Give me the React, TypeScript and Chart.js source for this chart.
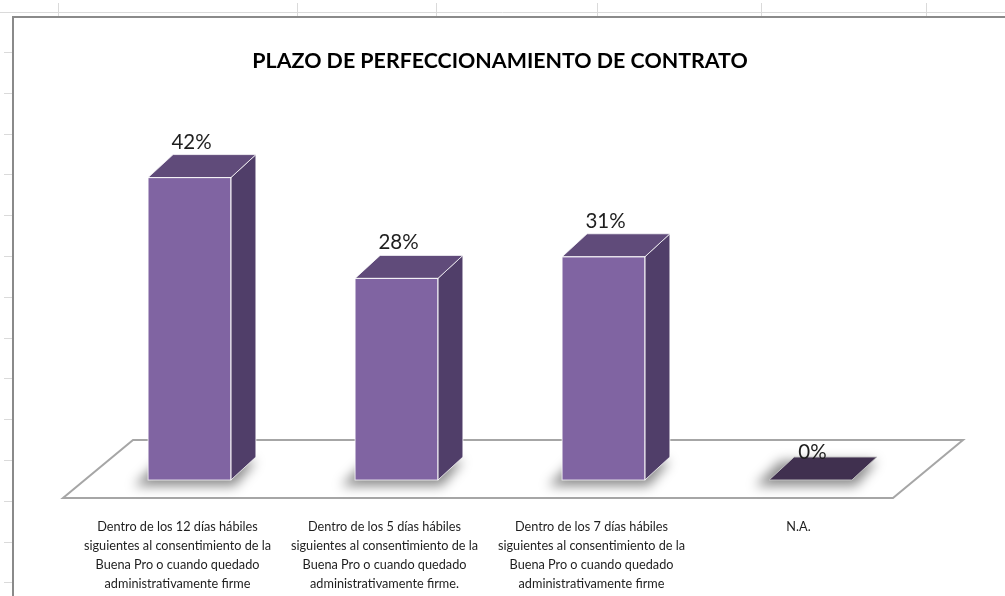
import React, { useEffect, useRef } from "react";
import { Chart, registerables } from "chart.js";

Chart.register(...registerables);

const chartTitle = "PLAZO DE PERFECCIONAMIENTO DE CONTRATO";
const categories: string[][] = [
  ["Dentro de los 12 días hábiles", "siguientes al consentimiento de la", "Buena Pro o cuando quedado", "administrativamente firme"],
  ["Dentro de los 5 días hábiles", "siguientes al consentimiento de la", "Buena Pro o cuando quedado", "administrativamente firme."],
  ["Dentro de los 7 días hábiles", "siguientes al consentimiento de la", "Buena Pro o cuando quedado", "administrativamente firme"],
  ["N.A."],
];
const values: number[] = [42, 28, 31, 0];
const valueLabels: string[] = ["42%", "28%", "31%", "0%"];

const FONT = "Lato, 'Noto Sans', sans-serif";
const COLORS = {
  front: "#8064A2",
  side: "#503E69",
  top: "#604B7A",
  flatTop: "#40304F",
  edge: "rgba(255,255,255,0.75)",
  floor: "#A6A6A6",
  border: "#8A8A8A",
  sheet: "#DADADA",
  text: "#1E1E1E",
};
const DEPTH = { dx: 25, dy: -23 };

const sheetPlugin = {
  id: "sheet",
  beforeDraw(chart: any) {
    const { ctx, width, height } = chart;
    ctx.save();
    ctx.fillStyle = "#ffffff";
    ctx.fillRect(0, 0, width, height);
    ctx.strokeStyle = COLORS.sheet;
    ctx.lineWidth = 1;
    ctx.beginPath();
    ctx.moveTo(0, 12.5);
    ctx.lineTo(width, 12.5);
    [58, 297, 436, 597, 761, 926].forEach((x) => {
      ctx.moveTo(x + 0.5, 3);
      ctx.lineTo(x + 0.5, 16);
    });
    for (let y = 52; y < height; y += 40.8) {
      const yy = Math.round(y) + 0.5;
      ctx.moveTo(4, yy);
      ctx.lineTo(12, yy);
    }
    ctx.stroke();
    ctx.strokeStyle = COLORS.border;
    ctx.lineWidth = 2;
    ctx.strokeRect(13, 17, width + 20, height + 20);
    ctx.restore();
  },
};

const bar3dPlugin = {
  id: "bar3d",
  beforeDatasetsDraw(chart: any) {
    const { ctx, chartArea } = chart;
    const yScale = chart.scales.y;
    const base = yScale.getPixelForValue(0);
    const fy = base + 18;
    const fl = chartArea.left - 23;
    const fr = chartArea.right - 21;
    const bx = 70, by = -58;
    ctx.save();
    ctx.beginPath();
    ctx.moveTo(fl, fy);
    ctx.lineTo(fr, fy);
    ctx.lineTo(fr + bx, fy + by);
    ctx.lineTo(fl + bx, fy + by);
    ctx.closePath();
    ctx.fillStyle = "#ffffff";
    ctx.fill();
    ctx.strokeStyle = COLORS.floor;
    ctx.lineWidth = 2;
    ctx.stroke();
    // shadows
    const meta = chart.getDatasetMeta(0);
    meta.data.forEach((bar: any) => {
      const w = bar.width;
      const x0 = bar.x - w / 2;
      ctx.save();
      ctx.filter = "blur(6px)";
      ctx.fillStyle = "rgba(0,0,0,0.45)";
      ctx.beginPath();
      ctx.moveTo(x0 - 14, base + 6);
      ctx.lineTo(x0 + w + 4, base + 6);
      ctx.lineTo(x0 + w + DEPTH.dx, base + DEPTH.dy + 4);
      ctx.lineTo(x0 + DEPTH.dx - 14, base + DEPTH.dy + 4);
      ctx.closePath();
      ctx.fill();
      ctx.restore();
    });
    ctx.restore();
  },
  afterDatasetsDraw(chart: any) {
    const { ctx } = chart;
    const meta = chart.getDatasetMeta(0);
    const { dx, dy } = DEPTH;
    ctx.save();
    meta.data.forEach((bar: any, i: number) => {
      const w = bar.width;
      const x0 = bar.x - w / 2;
      const x1 = bar.x + w / 2;
      const yt = bar.y;
      const yb = bar.base;
      const flat = Math.abs(yb - yt) < 1;
      if (!flat) {
        ctx.beginPath();
        ctx.moveTo(x1, yt);
        ctx.lineTo(x1 + dx, yt + dy);
        ctx.lineTo(x1 + dx, yb + dy);
        ctx.lineTo(x1, yb);
        ctx.closePath();
        ctx.fillStyle = COLORS.side;
        ctx.fill();
        ctx.strokeStyle = COLORS.edge;
        ctx.lineWidth = 1;
        ctx.stroke();
      }
      ctx.beginPath();
      ctx.moveTo(x0, yt);
      ctx.lineTo(x1, yt);
      ctx.lineTo(x1 + dx, yt + dy);
      ctx.lineTo(x0 + dx, yt + dy);
      ctx.closePath();
      ctx.fillStyle = flat ? COLORS.flatTop : COLORS.top;
      ctx.fill();
      ctx.strokeStyle = flat ? "rgba(200,200,200,0.9)" : COLORS.edge;
      ctx.lineWidth = 1;
      ctx.stroke();
      if (!flat) {
        ctx.strokeStyle = COLORS.edge;
        ctx.strokeRect(x0, yt, w, yb - yt);
      }
      ctx.fillStyle = COLORS.text;
      ctx.font = `20.5px ${FONT}`;
      ctx.textAlign = "center";
      ctx.textBaseline = "alphabetic";
      ctx.fillText(valueLabels[i], bar.x + 2, yt + dy - (flat ? -2 : 6));
    });
    ctx.restore();
  },
};

export default function App() {
  const ref = useRef<HTMLCanvasElement | null>(null);
  useEffect(() => {
    if (!ref.current) return;
    const chart = new Chart(ref.current, {
      type: "bar",
      data: {
        labels: categories,
        datasets: [
          {
            data: values,
            backgroundColor: COLORS.front,
            borderWidth: 0,
            categoryPercentage: 1,
            barPercentage: 0.4,
          },
        ],
      },
      options: {
        responsive: false,
        animation: false,
        devicePixelRatio: 1,
        layout: { padding: { left: 86, right: 91, top: 0, bottom: 0 } },
        plugins: {
          legend: { display: false },
          tooltip: { enabled: false },
          title: {
            display: true,
            text: chartTitle,
            color: "#000000",
            font: { family: FONT, size: 21.4, weight: "bold", lineHeight: 1.2 },
            padding: { top: 48, bottom: 10.3 },
          },
        },
        scales: {
          x: {
            grid: { display: false, drawTicks: false },
            border: { display: false },
            ticks: {
              color: COLORS.text,
              font: { family: FONT, size: 12.7, lineHeight: 1.5 },
              padding: 37,
              maxRotation: 0,
              autoSkip: false,
              labelOffset: -12,
            },
            afterFit: (scale: any) => {
              scale.height = 116;
            },
          },
          y: {
            display: false,
            min: 0,
            max: 55,
          },
        },
      },
      plugins: [sheetPlugin, bar3dPlugin],
    });
    return () => chart.destroy();
  }, []);
  return (
    <div style={{ position: "fixed", left: 0, top: 0, width: 1005, height: 596 }}>
      <canvas ref={ref} width={1005} height={596} />
    </div>
  );
}
